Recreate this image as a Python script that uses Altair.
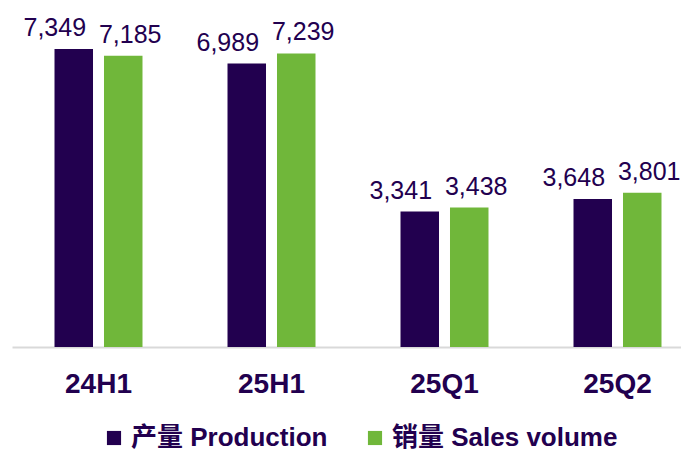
import altair as alt
import pandas as pd

categories = ["24H1", "25H1", "25Q1", "25Q2"]
series_names = ["产量 Production", "销量 Sales volume"]
production = [7349, 6989, 3341, 3648]
sales = [7185, 7239, 3438, 3801]
colors = ["#22004F", "#70B73A"]

rows = []
for c, p, s in zip(categories, production, sales):
    rows.append({"period": c, "series": series_names[0], "value": p})
    rows.append({"period": c, "series": series_names[1], "value": s})
df = pd.DataFrame(rows)

FONT = "Liberation Sans, Arial, Noto Sans CJK SC, sans-serif"
PURPLE = "#22004F"

x_enc = alt.X(
    "period:N",
    sort=categories,
    scale=alt.Scale(range=[0, 692], paddingInner=0, paddingOuter=0),
    axis=alt.Axis(
        title=None, labelAngle=0, labelFont=FONT, labelFontSize=28,
        labelFontWeight="bold", labelColor=PURPLE, ticks=False, tickSize=0,
        domainColor="#D9D9D9", domainWidth=2, labelPadding=45,
        labelBaseline="alphabetic", grid=False,
    ),
)
xoff = alt.XOffset(
    "series:N", sort=series_names,
    scale=alt.Scale(paddingInner=0.222, paddingOuter=0.859),
)
y_enc = alt.Y("value:Q", scale=alt.Scale(domain=[0, 8360]), axis=None)

base = alt.Chart(df)

bars = base.mark_bar().encode(
    x=x_enc,
    xOffset=xoff,
    y=y_enc,
    color=alt.Color(
        "series:N",
        sort=series_names,
        scale=alt.Scale(domain=series_names, range=colors),
        legend=alt.Legend(
            orient="none", legendX=89, legendY=417, direction="horizontal",
            title=None, symbolType="square", symbolSize=200,
            symbolStrokeWidth=0, labelFont=FONT, labelFontSize=26,
            labelFontWeight="bold", labelColor=PURPLE, labelLimit=400,
            columnPadding=34, labelOffset=4, padding=0,
        ),
    ),
)

text_prod = base.transform_filter(
    alt.datum.series == series_names[0]
).mark_text(
    font=FONT, fontSize=25, color=PURPLE, baseline="alphabetic", dy=-13, dx=-19
).encode(x=x_enc, xOffset=xoff, y=y_enc, text=alt.Text("value:Q", format=",d"))

text_sales = base.transform_filter(
    alt.datum.series == series_names[1]
).mark_text(
    font=FONT, fontSize=25, color=PURPLE, baseline="alphabetic", dy=-13, dx=7
).encode(x=x_enc, xOffset=xoff, y=y_enc, text=alt.Text("value:Q", format=",d"))

chart = alt.layer(bars, text_prod, text_sales).properties(
    width=669, height=339,
    autosize=alt.AutoSizeParams(type="none"),
    padding={"left": 4, "top": 0, "right": 0, "bottom": 104},
).configure_view(stroke=None)

chart.save("out.html", embed_options={"renderer": "svg", "actions": False})
